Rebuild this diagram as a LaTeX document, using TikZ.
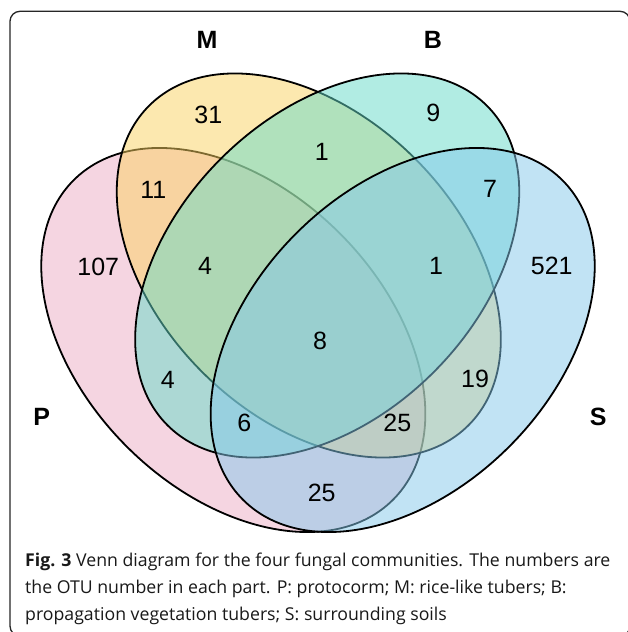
\documentclass[tikz,border=0pt]{standalone}
\usepackage{fontspec}
\setmainfont{Liberation Sans}
\newfontfamily\capfont{Open Sans}
\definecolor{cP}{RGB}{237,173,197}
\definecolor{cM}{RGB}{251,211,97}
\definecolor{cB}{RGB}{101,219,201}
\definecolor{cS}{RGB}{133,201,235}
\tikzset{
  setshape/.style={draw=black, line width=1.8pt, fill opacity=0.5},
  num/.style={inner sep=0pt, font=\fontsize{25}{30}\selectfont},
  setlabel/.style={inner sep=0pt, font=\fontsize{25}{30}\selectfont\bfseries},
  capline/.style={inner sep=0pt, anchor=base west, text=black!90, font=\capfont\fontsize{17.7}{22}\selectfont},
}
\begin{document}
\begin{tikzpicture}[x=1pt,y=1pt]
\useasboundingbox (0,0) rectangle (627,632);
\fill[white] (0,0) rectangle (627,632);
% frame
\draw[line width=1.3pt, black!85, rounded corners=10pt] (10,620.7) rectangle (630,-4);
% ellipses: P, M, B, S
\filldraw[setshape, fill=cP, rotate around={-45:(233.3,292)}] (233.3,292) ellipse [x radius=225.9pt, y radius=150.7pt];
\filldraw[setshape, fill=cM, rotate around={-45:(308.8,366.5)}] (308.8,366.5) ellipse [x radius=225.9pt, y radius=150.7pt];
\filldraw[setshape, fill=cB, rotate around={45:(327.2,366.5)}] (327.2,366.5) ellipse [x radius=225.9pt, y radius=150.7pt];
\filldraw[setshape, fill=cS, rotate around={45:(402.7,292)}] (402.7,292) ellipse [x radius=225.9pt, y radius=150.7pt];
% set labels
\node[setlabel] (lM) at (207,592) {M};
\node[setlabel] (lB) at (433,592) {B};
\node[setlabel] (lP) at (41.7,215.3) {P};
\node[setlabel] (lS) at (598.3,215.3) {S};
% region counts
\node[num] (n31) at (208.3,517) {31};
\node[num] (n9) at (433.3,518.7) {9};
\node[num] (n1a) at (321.7,480.3) {1};
\node[num] (n11) at (153.3,442) {11};
\node[num] (n7) at (490,442.7) {7};
\node[num] (n107) at (98.3,365.3) {107};
\node[num] (n4a) at (205,366) {4};
\node[num] (n1b) at (436,366.3) {1};
\node[num] (n521) at (551.7,366.3) {521};
\node[num] (n8) at (320,291) {8};
\node[num] (n4b) at (167.7,252) {4};
\node[num] (n19) at (475,252.7) {19};
\node[num] (n6) at (244.3,208.7) {6};
\node[num] (n25a) at (397.3,208.7) {25};
\node[num] (n25b) at (321.7,138.7) {25};
% caption
\node[capline] (cap1) at (25,65) {\textbf{Fig. 3} Venn diagram for the four fungal communities. The numbers are};
\node[capline] (cap2) at (25,38.5) {the OTU number in each part. P: protocorm; M: rice-like tubers; B:};
\node[capline] (cap3) at (25,12) {propagation vegetation tubers; S: surrounding soils};
\end{tikzpicture}
\end{document}
